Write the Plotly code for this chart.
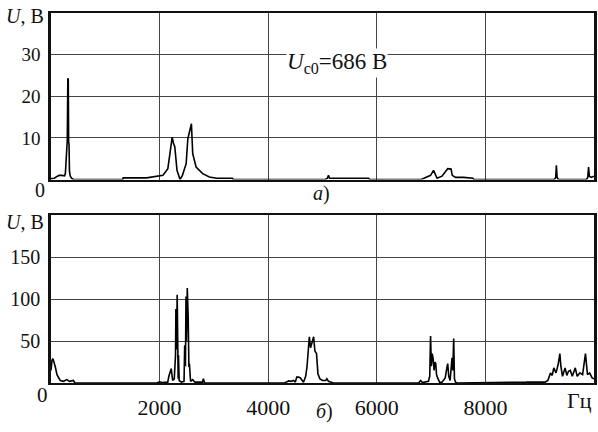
import plotly.graph_objects as go

# ---- data: panel a) ----
fa = [0, 60, 120, 150, 200, 250, 265, 285, 300, 310, 318, 325, 332, 340, 355, 380, 414,
      1320, 1330, 1760, 1800, 1950, 2062, 2152, 2195, 2232, 2255, 2280, 2320, 2376, 2420,
      2489, 2520, 2562, 2586, 2610, 2672, 2794, 2916, 3050, 3340, 3360,
      5050, 5090, 5110, 5130, 5170, 5850, 5870,
      6818, 6900, 6990, 7045, 7080, 7110, 7200, 7290, 7306, 7367, 7390, 7450, 7600, 7770, 7790,
      9270, 9295, 9307, 9320, 9345, 9860, 9885, 9900, 9915, 9950, 10000]
ua = [0.2, 0.3, 0.8, 1.0, 1.0, 0.9, 1.5, 9.0, 9.5, 24.3, 24.0, 9.0, 8.5, 2.0, 0.8, 0.3, 0.0,
      0.0, 0.4, 0.4, 0.5, 0.7, 1.0, 2.6, 6.2, 10.2, 8.7, 7.9, 2.2, 0.0, 1.0,
      3.8, 9.8, 12.6, 13.4, 6.2, 3.0, 1.4, 0.6, 0.3, 0.3, 0.0,
      0.0, 0.3, 1.0, 0.3, 0.3, 0.3, 0.0,
      0.0, 0.5, 1.0, 2.2, 1.2, 0.3, 0.8, 2.5, 2.6, 2.5, 1.0, 0.5, 0.5, 0.3, 0.0,
      0.0, 0.5, 3.4, 0.5, 0.0, 0.0, 0.5, 3.0, 0.8, 0.5, 0.8]

# ---- data: panel б) ----
fb = [0, 18, 36, 60, 80, 110, 140, 170, 230, 292, 340, 413, 440,
      1950, 2000, 2050, 2150, 2170, 2214, 2240, 2270, 2293, 2300, 2310, 2324, 2332, 2342, 2348,
      2360, 2400, 2450, 2462, 2476, 2486, 2495, 2510, 2526, 2540, 2549, 2570, 2610, 2650, 2790, 2805, 2830,
      4300, 4380, 4420, 4470, 4500, 4525, 4560, 4592, 4650, 4690, 4714, 4740, 4758, 4780, 4800, 4837,
      4860, 4890, 4916, 4950, 5000, 5060, 5081, 5110, 5200,
      6770, 6806, 6840, 6950, 6975, 6990, 7005, 7020, 7038, 7055, 7070, 7086, 7100, 7120, 7136,
      7160, 7200, 7260, 7290, 7306, 7325, 7350, 7385, 7400, 7416, 7430, 7450, 7480,
      8750, 8800, 9100, 9150, 9198, 9230, 9260, 9300, 9340, 9371, 9390, 9420, 9467, 9500,
      9530, 9564, 9600, 9630, 9655, 9690, 9740, 9790, 9843, 9880, 9920, 9965, 10000]
ub = [15, 27, 29, 24, 19, 10, 6, 3, 2, 4, 2, 3, 0,
      0, 1.5, 0.5, 1, 8, 17, 3, 5, 33, 88, 40, 105, 60, 5, 33,
      3, 1, 2, 45, 20, 103, 50, 113, 80, 19, 23, 2, 4, 1, 1, 5, 0,
      0, 2.5, 2, 3, 1, 7, 7, 6, 1, 8, 19, 40, 55, 42, 47, 55,
      38, 35, 11, 5, 3, 3, 5, 2, 0,
      0, 3, 0.5, 2, 8, 56, 20, 35, 29, 15, 25, 23, 10, 6, 3,
      0.5, 1, 6, 18, 23, 8, 3, 30, 15, 53, 5, 1, 0,
      1, 1.2, 1, 3, 12, 9, 18, 12, 22, 35, 20, 8, 18, 9,
      14, 15, 8, 13, 18, 8, 12, 10, 35, 10, 12, 6, 5]

ya_ticks = [10, 20, 30]
yb_ticks = [50, 100, 150]
x_ticks = [2000, 4000, 6000, 8000]
x_ticktext = ["2000", "4000", "6000", "8000"]

FONT = "Liberation Serif, Times New Roman, serif"
INK = "#111111"
GRID = "#444444"

fig = go.Figure()
fig.add_trace(go.Scatter(x=fa, y=ua, mode="lines", line=dict(color="black", width=1.6),
                         xaxis="x", yaxis="y", showlegend=False, hoverinfo="skip"))
fig.add_trace(go.Scatter(x=fb, y=ub, mode="lines", line=dict(color="black", width=1.6),
                         xaxis="x2", yaxis="y2", showlegend=False, hoverinfo="skip"))

def ax(size, lw=2):
    return dict(showline=True, linecolor=INK, linewidth=lw, mirror=True,
                showgrid=True, gridcolor=GRID, gridwidth=1.3, zeroline=False,
                ticks="", tickfont=dict(family=FONT, size=size, color=INK))

fig.update_layout(
    width=598, height=432,
    margin=dict(l=51, r=1, t=13, b=49),
    paper_bgcolor="white", plot_bgcolor="white",
    font=dict(family=FONT, size=18, color=INK),
    xaxis=dict(domain=[0, 1], range=[0, 10000], tickvals=x_ticks, showticklabels=False,
               anchor="y", **ax(18)),
    yaxis=dict(domain=[0.55, 1], range=[0, 40], tickvals=ya_ticks, anchor="x",
               ticklabelstandoff=4, **ax(19, 2.5)),
    xaxis2=dict(domain=[0, 1], range=[0, 10000], tickvals=x_ticks, ticktext=x_ticktext,
                anchor="y2", ticklabelstandoff=4, **ax(22)),
    yaxis2=dict(domain=[0, 0.454], range=[0, 200], tickvals=yb_ticks, anchor="x2",
                ticklabelstandoff=4, **ax(20, 2.5)),
)

def txt(text, x, y, size, xref="paper", yref="paper", xanchor="center", bg=None):
    fig.add_annotation(text=text, x=x, y=y, xref=xref, yref=yref, showarrow=False,
                       xanchor=xanchor, yanchor="middle",
                       font=dict(family=FONT, size=size, color=INK),
                       bgcolor=bg, borderpad=0)

txt("<i>U</i>, В", -0.085, 0.992, 20, xanchor="left")
txt("<i>U</i>, В", -0.085, 0.435, 20, xanchor="left")
txt("0", -0.02, 0.522, 20)
txt("0", -0.016, -0.033, 21)
txt("<i>U</i><sub>c0</sub>=686 В", 4330, 28.0, 23, xref="x", yref="y", xanchor="left", bg="white")
txt("<i>а</i>)", 0.498, 0.512, 20)
txt("<i>б</i>)", 0.503, -0.078, 20)
txt("Гц", 9740, -0.047, 22, xref="x2", yref="paper")

fig.write_html("out.html", config={"displayModeBar": False},
               post_script="document.body.style.margin='0';document.body.style.overflow='hidden';")
